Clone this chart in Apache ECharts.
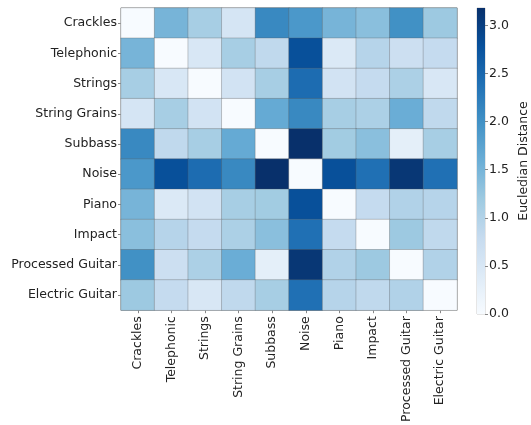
<!DOCTYPE html>
<html><head><meta charset="utf-8">
<script src="https://cdn.jsdelivr.net/npm/echarts@6/dist/echarts.min.js"></script>
<style>html,body{margin:0;padding:0;background:#fff}#c{width:531px;height:425px}</style>
</head><body><div id="c"></div>
<script>
const categories = ["Crackles","Telephonic","Strings","String Grains","Subbass","Noise","Piano","Impact","Processed Guitar","Electric Guitar"];
const distances = [
  [0.00,1.50,1.10,0.55,2.10,1.90,1.50,1.35,2.00,1.20],
  [1.50,0.00,0.50,1.10,0.85,2.80,0.45,0.95,0.70,0.80],
  [1.10,0.50,0.00,0.60,1.10,2.45,0.60,0.80,1.05,0.50],
  [0.55,1.10,0.60,0.00,1.65,2.10,1.10,1.05,1.60,0.85],
  [2.10,0.85,1.10,1.65,0.00,3.18,1.15,1.35,0.30,1.10],
  [1.90,2.80,2.45,2.10,3.18,0.00,2.80,2.40,3.10,2.40],
  [1.50,0.45,0.60,1.10,1.15,2.80,0.00,0.80,1.00,0.95],
  [1.35,0.95,0.80,1.05,1.35,2.40,0.80,0.00,1.20,0.85],
  [2.00,0.70,1.05,1.60,0.30,3.10,1.00,1.20,0.00,1.00],
  [1.20,0.80,0.50,0.85,1.10,2.40,0.95,0.85,1.00,0.00]
];
const colorbarTicks = [0.0,0.5,1.0,1.5,2.0,2.5,3.0];
const vmax = 3.18;
const blues = ['#f7fbff','#deebf7','#c6dbef','#9ecae1','#6baed6','#4292c6','#2171b5','#08519c','#08306b'];

const cells = [];
distances.forEach((row,i)=>row.forEach((v,j)=>cells.push([j,i,v])));

const font = 'DejaVu Sans';
const fs = 12.5;
const chart = echarts.init(document.getElementById('c'));
chart.setOption({
  animation:false,
  textStyle:{fontFamily:font},
  grid:[
    {left:121,right:74,top:8,bottom:111,show:true,borderColor:'#888',borderWidth:1,backgroundColor:'transparent'},
    {left:477,width:11,top:8,bottom:111,show:true,borderColor:'#ccc',borderWidth:1}
  ],
  xAxis:[
    {type:'category',gridIndex:0,data:categories,position:'bottom',
     axisLine:{show:false},axisTick:{show:true,alignWithLabel:true,length:3,lineStyle:{color:'#888'}},
     axisLabel:{rotate:90,interval:0,color:'#222',fontSize:fs,fontFamily:font,margin:6},splitLine:{show:false}},
    {type:'category',gridIndex:1,data:['cb'],show:false}
  ],
  yAxis:[
    {type:'category',gridIndex:0,data:categories,inverse:true,
     axisLine:{show:false},axisTick:{show:true,alignWithLabel:true,length:3,lineStyle:{color:'#888'}},
     axisLabel:{interval:0,color:'#222',fontSize:fs,fontFamily:font,margin:4},splitLine:{show:false}},
    {type:'value',gridIndex:1,min:0,max:vmax,interval:0.5,position:'right',
     axisLine:{show:false},axisTick:{show:true,length:3,lineStyle:{color:'#888'}},
     axisLabel:{color:'#222',fontSize:fs,fontFamily:font,formatter:v=>v.toFixed(1),margin:4,showMaxLabel:false},
     splitLine:{show:false},
     name:'Eucledian Distance',nameLocation:'middle',nameRotate:90,nameGap:32,
     nameTextStyle:{color:'#222',fontSize:fs,fontFamily:font}}
  ],
  visualMap:{type:'continuous',min:0,max:vmax,show:false,seriesIndex:0,inRange:{color:blues}},
  series:[
    {type:'heatmap',xAxisIndex:0,yAxisIndex:0,data:cells,
     itemStyle:{borderColor:'rgba(90,90,90,0.3)',borderWidth:1}},
    {type:'bar',xAxisIndex:1,yAxisIndex:1,data:[vmax],barWidth:'100%',silent:true,
     itemStyle:{color:new echarts.graphic.LinearGradient(0,0,0,1,blues.slice().reverse().map((c,i)=>({offset:i/(blues.length-1),color:c})))}}
  ]
});
</script></body></html>
